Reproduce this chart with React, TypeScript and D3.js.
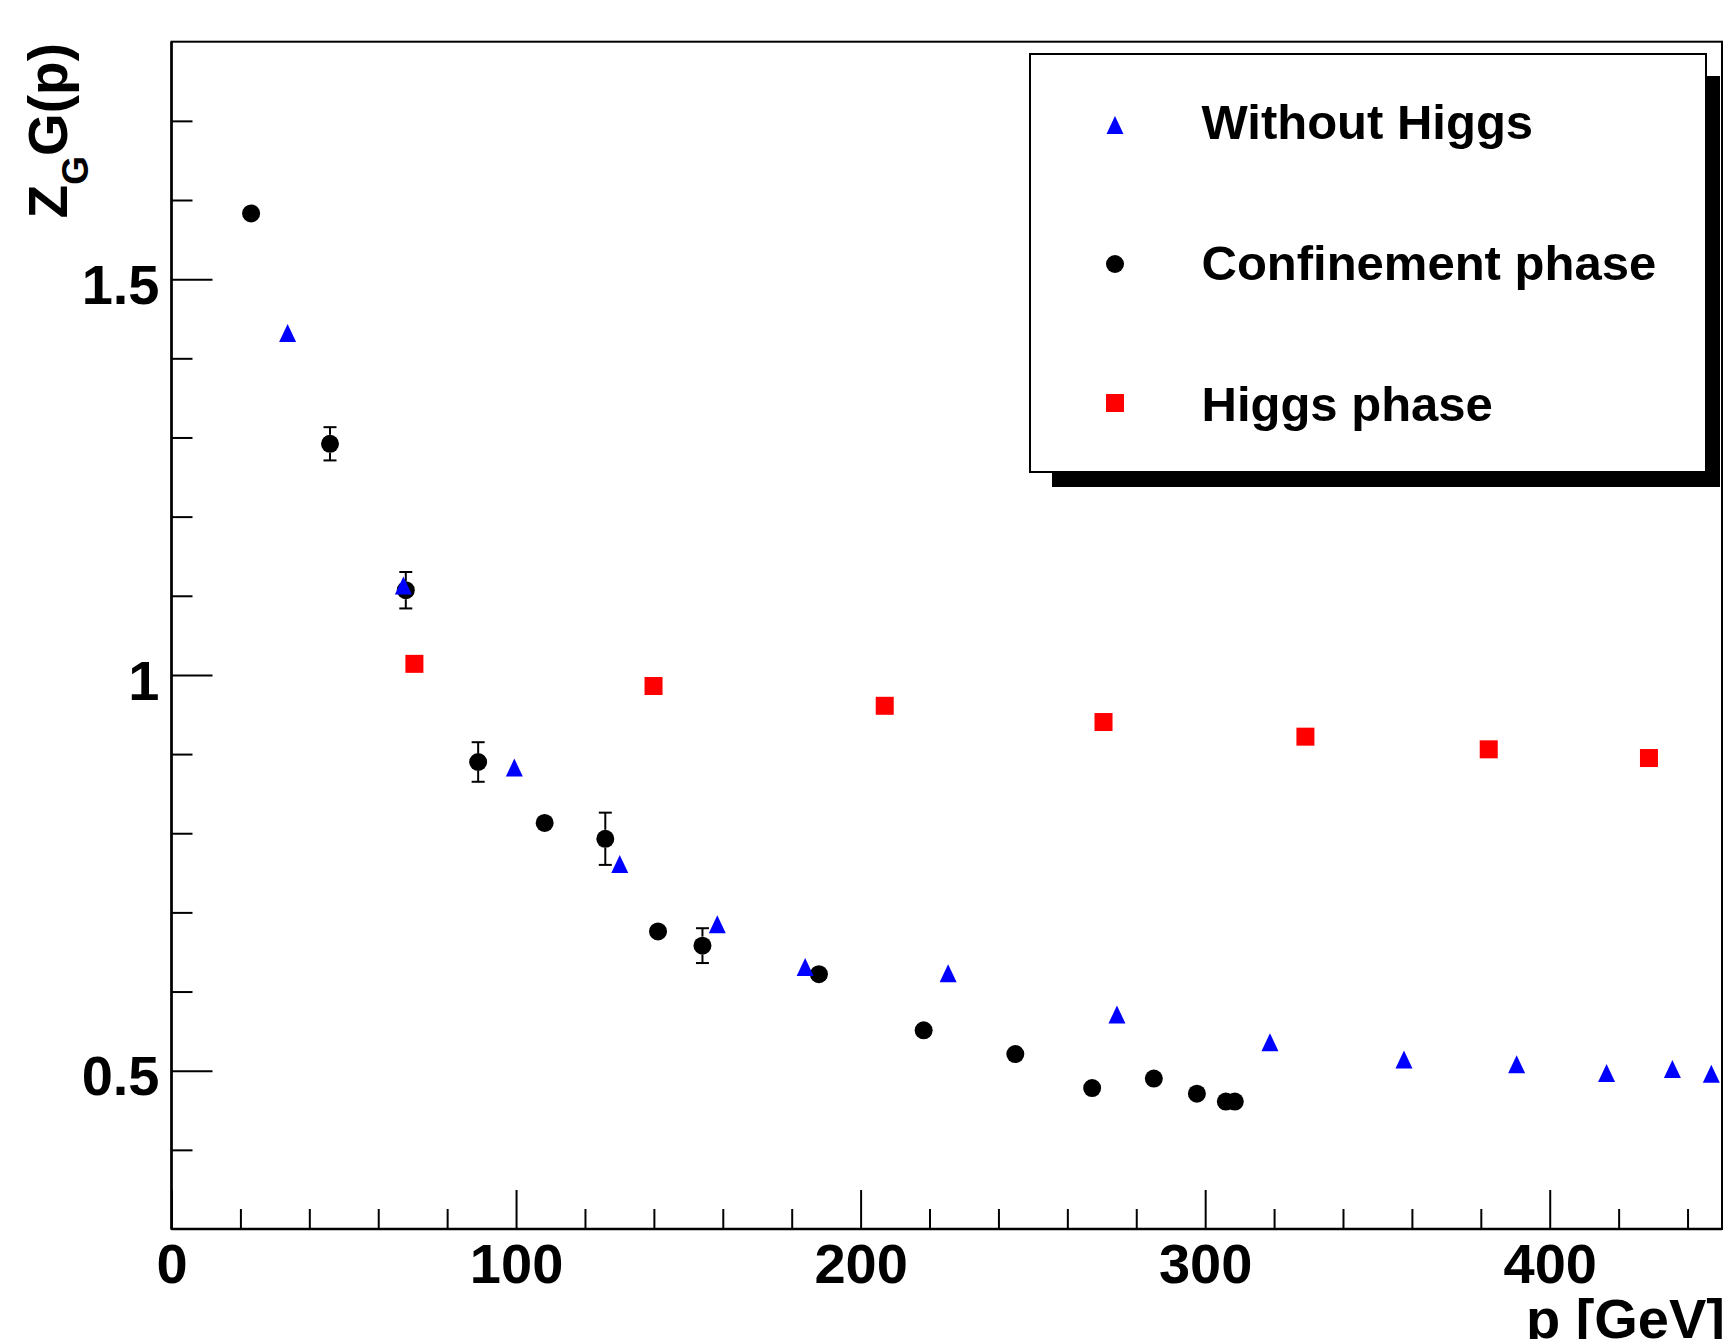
import * as d3 from "d3";
import { useEffect, useRef } from "react";

// confinement phase (black circles)
const confP = [23.1, 46.0, 68.0, 89.0, 108.3, 125.9, 141.2, 154.1, 187.9, 218.3, 244.9, 267.2, 285.1, 297.6, 306.0, 308.6];
const confG = [1.583, 1.292, 1.107, 0.89, 0.813, 0.793, 0.676, 0.658, 0.622, 0.551, 0.521, 0.478, 0.49, 0.471, 0.461, 0.461];
const confErr = [0, 0.021, 0.023, 0.025, 0, 0.033, 0, 0.022, 0, 0, 0, 0, 0, 0, 0, 0];

// without Higgs (blue triangles)
const noHiggsP = [33.7, 67.3, 99.5, 130.1, 158.4, 183.9, 225.4, 274.4, 318.8, 357.7, 390.4, 416.5, 435.6, 446.9];
const noHiggsG = [1.432, 1.113, 0.883, 0.761, 0.685, 0.631, 0.623, 0.571, 0.536, 0.514, 0.508, 0.497, 0.502, 0.496];

// Higgs phase (red squares)
const higgsP = [70.5, 139.9, 207.0, 270.5, 329.1, 382.3, 428.8];
const higgsG = [1.014, 0.986, 0.961, 0.9405, 0.922, 0.906, 0.895];

const xMajor = [0, 100, 200, 300, 400];
const yMajor = [0.5, 1, 1.5];
const legendLabels = ["Without Higgs", "Confinement phase", "Higgs phase"];

const FONT = "'Liberation Sans', Arial, Helvetica, sans-serif";

const App = () => {
    const ref = useRef(null);

    const width = 1723;
    const height = 1339;
    const left = 171.5;
    const right = 1722;
    const top = 41.7;
    const bottom = 1229;

    useEffect(() => {
        const svg = d3.select(ref.current);
        svg.selectAll("*").remove();

        const x = d3.scaleLinear().domain([0, 450]).range([left, right]);
        const y = d3.scaleLinear().domain([0.3, 1.8]).range([bottom, top]);

        const xMinor = d3.range(0, 450, 20).filter(v => v % 100 !== 0);
        const yMinor = d3.range(4, 18).map(v => v / 10).filter(v => !yMajor.includes(v));

        // frame
        svg.append("rect")
            .attr("x", left).attr("y", top)
            .attr("width", right - left).attr("height", bottom - top)
            .attr("fill", "none").attr("stroke", "#000").attr("stroke-width", 2);

        // axes (ticks point inwards, ROOT style)
        const styleAxis = (g) => {
            g.select(".domain").remove();
            g.selectAll("line").attr("stroke", "#000").attr("stroke-width", 2);
            g.selectAll("text")
                .attr("font-family", FONT)
                .attr("font-weight", "bold")
                .attr("font-size", 56)
                .attr("fill", "#000");
        };

        svg.append("g")
            .attr("transform", `translate(${left},0)`)
            .call(d3.axisLeft(y).tickValues(yMajor).tickSizeInner(-41).tickSizeOuter(0).tickPadding(12).tickFormat(d => String(d)))
            .call(styleAxis)
            .selectAll("text").attr("dy", "0.43em");

        svg.append("g")
            .attr("transform", `translate(${left},0)`)
            .call(d3.axisLeft(y).tickValues(yMinor).tickSizeInner(-21).tickSizeOuter(0).tickFormat(() => ""))
            .call(styleAxis);

        svg.append("g")
            .attr("transform", `translate(0,${bottom})`)
            .call(d3.axisBottom(x).tickValues(xMajor).tickSizeInner(-39).tickSizeOuter(0).tickPadding(14).tickFormat(d => String(d)))
            .call(styleAxis);

        svg.append("g")
            .attr("transform", `translate(0,${bottom})`)
            .call(d3.axisBottom(x).tickValues(xMinor).tickSizeInner(-20).tickSizeOuter(0).tickFormat(() => ""))
            .call(styleAxis);

        svg.append("line")
            .attr("x1", left).attr("x2", right).attr("y1", bottom).attr("y2", bottom)
            .attr("stroke", "#000").attr("stroke-width", 2.5);
        svg.append("line")
            .attr("x1", left).attr("x2", left).attr("y1", top).attr("y2", bottom)
            .attr("stroke", "#000").attr("stroke-width", 2.5);

        // axis titles (x title is cut by the lower edge, as in the original)
        svg.append("text")
            .attr("x", 1725).attr("y", 1338)
            .attr("text-anchor", "end")
            .attr("font-family", FONT).attr("font-weight", "bold").attr("font-size", 56)
            .text("p [GeV]");

        const yt = svg.append("text")
            .attr("transform", "translate(66.5,43) rotate(-90)")
            .attr("text-anchor", "end")
            .attr("font-family", FONT).attr("font-weight", "bold").attr("font-size", 55);
        yt.append("tspan").text("Z");
        yt.append("tspan").attr("font-size", 37).attr("dy", 21.5).text("G");
        yt.append("tspan").attr("dy", -21.5).text("G(p)");

        const plot = svg.append("g");

        // error bars of confinement points
        const r = 9;
        const cap = 6.5;
        confP.forEach((p, i) => {
            const e = confErr[i];
            if (!e) return;
            const cx = x(p);
            const yHi = y(confG[i] + e);
            const yLo = y(confG[i] - e);
            const cy = y(confG[i]);
            const g = plot.append("g").attr("stroke", "#000").attr("stroke-width", 2);
            if (cy - r > yHi) g.append("line").attr("x1", cx).attr("x2", cx).attr("y1", yHi).attr("y2", cy - r);
            if (yLo > cy + r) g.append("line").attr("x1", cx).attr("x2", cx).attr("y1", cy + r).attr("y2", yLo);
            g.append("line").attr("x1", cx - cap).attr("x2", cx + cap).attr("y1", yHi).attr("y2", yHi);
            g.append("line").attr("x1", cx - cap).attr("x2", cx + cap).attr("y1", yLo).attr("y2", yLo);
        });

        const triangle = (cx, cy) => `M${cx - 8.5},${cy + 9}L${cx + 8.5},${cy + 9}L${cx},${cy - 9}Z`;

        plot.selectAll(".conf")
            .data(confP)
            .enter()
            .append("circle")
            .attr("class", "conf")
            .attr("cx", d => x(d))
            .attr("cy", (d, i) => y(confG[i]))
            .attr("r", r)
            .attr("fill", "#000");

        plot.selectAll(".nohiggs")
            .data(noHiggsP)
            .enter()
            .append("path")
            .attr("class", "nohiggs")
            .attr("d", (d, i) => triangle(x(d), y(noHiggsG[i])))
            .attr("fill", "#0000ff");

        plot.selectAll(".higgs")
            .data(higgsP)
            .enter()
            .append("rect")
            .attr("class", "higgs")
            .attr("x", d => x(d) - 9)
            .attr("y", (d, i) => y(higgsG[i]) - 9)
            .attr("width", 18)
            .attr("height", 18)
            .attr("fill", "#ff0000");

        // legend
        const leg = svg.append("g");
        leg.append("rect").attr("x", 1052).attr("y", 472).attr("width", 668).attr("height", 15).attr("fill", "#000");
        leg.append("rect").attr("x", 1706).attr("y", 76).attr("width", 14).attr("height", 411).attr("fill", "#000");
        leg.append("rect")
            .attr("x", 1030).attr("y", 54).attr("width", 676).attr("height", 418)
            .attr("fill", "#fff").attr("stroke", "#000").attr("stroke-width", 2);

        const rowMarkY = [125, 264, 403];
        const rowTextY = [139, 280, 421];
        const mx = 1115;
        leg.append("path").attr("d", triangle(mx, rowMarkY[0])).attr("fill", "#0000ff");
        leg.append("circle").attr("cx", mx).attr("cy", rowMarkY[1]).attr("r", r).attr("fill", "#000");
        leg.append("rect").attr("x", mx - 9).attr("y", rowMarkY[2] - 9).attr("width", 18).attr("height", 18).attr("fill", "#ff0000");

        leg.selectAll(".leg-text")
            .data(legendLabels)
            .enter()
            .append("text")
            .attr("class", "leg-text")
            .attr("x", 1201.5)
            .attr("y", (d, i) => rowTextY[i])
            .attr("font-family", FONT).attr("font-weight", "bold").attr("font-size", 49)
            .text(d => d);
    }, []);

    return (
        <svg
            ref={ref}
            width={width}
            height={height}
            style={{ position: "absolute", left: 0, top: 0, background: "#fff" }}
        ></svg>
    );
};

export default App;
